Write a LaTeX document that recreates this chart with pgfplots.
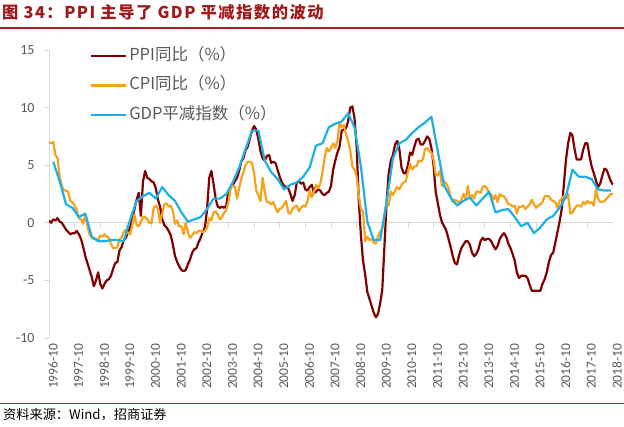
\documentclass[border=0pt]{standalone}
\usepackage{fontspec}
\usepackage{pgfplots}
\pgfplotsset{compat=1.18}
\usepackage{pgfplotstable}
\setmainfont{Carlito}
\newfontfamily\cjk{Noto Sans CJK SC}
\newfontfamily\cjktitle[LetterSpace=9]{Noto Sans CJK SC}
\definecolor{ppi}{RGB}{128,0,0}
\definecolor{cpi}{RGB}{247,162,27}
\definecolor{gdp}{RGB}{30,175,228}
\definecolor{titlered}{RGB}{160,26,26}
\definecolor{rulered}{RGB}{175,30,30}
\definecolor{axgray}{RGB}{217,217,217}
\definecolor{txtgray}{RGB}{89,89,89}

% PPI YoY, monthly from 1996-10 to 2018-10
\pgfplotstableread[row sep=\\]{v\\
0.2\\0.0\\0.3\\
0.2\\0.4\\0.1\\0.0\\-0.3\\-0.6\\-0.8\\-1.0\\-0.9\\-0.9\\-0.7\\-1.0\\
-1.4\\-2.1\\-2.9\\-3.5\\-4.1\\-4.7\\-5.5\\-5.0\\-4.3\\-5.3\\-5.7\\-5.3\\
-5.0\\-4.9\\-4.6\\-4.0\\-3.5\\-3.4\\-2.4\\-2.1\\-1.5\\-1.3\\-0.8\\-0.4\\
0.3\\1.2\\2.0\\2.6\\0.6\\3.6\\4.5\\3.9\\3.8\\3.6\\3.5\\3.0\\
2.0\\1.4\\0.3\\-0.2\\-0.4\\-0.7\\-1.1\\-1.9\\-2.9\\-3.4\\-3.8\\-4.1\\
-4.2\\-4.1\\-3.6\\-3.2\\-2.6\\-2.3\\-2.2\\-1.7\\-1.3\\-0.8\\-0.4\\1.2\\
3.9\\4.5\\3.4\\2.1\\1.4\\1.3\\1.4\\1.3\\1.5\\2.8\\3.0\\3.3\\
3.6\\3.9\\4.5\\5.3\\5.6\\6.3\\6.6\\7.3\\8.0\\8.4\\8.1\\7.3\\
6.2\\5.6\\5.4\\5.8\\5.9\\5.2\\5.3\\5.2\\4.6\\4.0\\3.5\\3.2\\
3.1\\3.0\\2.5\\1.9\\2.4\\3.5\\3.6\\3.4\\3.5\\2.9\\2.8\\3.1\\
3.3\\2.6\\2.7\\2.9\\2.8\\2.5\\2.4\\2.6\\2.7\\3.2\\4.6\\5.4\\
6.1\\6.6\\8.0\\8.1\\8.2\\8.8\\10.0\\10.1\\9.1\\6.6\\2.0\\-1.1\\
-3.3\\-4.5\\-6.0\\-6.6\\-7.2\\-7.8\\-8.2\\-7.9\\-7.0\\-5.8\\-2.1\\1.7\\
4.3\\5.4\\5.9\\6.8\\7.1\\6.4\\4.8\\4.3\\4.3\\5.0\\6.1\\5.9\\
6.6\\7.2\\7.3\\6.8\\6.8\\7.1\\7.5\\7.3\\6.5\\5.0\\2.7\\1.7\\
0.7\\0.0\\-0.3\\-0.7\\-1.4\\-2.1\\-2.9\\-3.5\\-3.6\\-2.8\\-2.2\\-1.9\\
-1.6\\-1.6\\-1.9\\-2.6\\-2.9\\-2.7\\-2.3\\-1.6\\-1.3\\-1.5\\-1.4\\-1.4\\
-1.6\\-2.0\\-2.3\\-2.0\\-1.4\\-1.1\\-0.9\\-1.2\\-1.8\\-2.2\\-2.7\\-3.3\\
-4.3\\-4.8\\-4.6\\-4.6\\-4.6\\-4.8\\-5.4\\-5.9\\-5.9\\-5.9\\-5.9\\-5.9\\
-5.3\\-4.9\\-4.3\\-3.4\\-2.8\\-2.6\\-1.7\\-0.8\\0.1\\1.2\\3.3\\5.5\\
6.9\\7.8\\7.6\\6.4\\5.5\\5.5\\5.5\\6.3\\6.9\\6.9\\5.8\\4.9\\
4.3\\3.7\\3.1\\3.4\\4.1\\4.7\\4.6\\4.1\\3.6\\3.3\\
}\ppidata

% CPI YoY, monthly from 1996-10 to 2018-10
\pgfplotstableread[row sep=\\]{v\\
7.0\\6.9\\7.0\\
5.9\\5.6\\4.0\\3.2\\2.8\\2.8\\2.7\\1.9\\1.8\\1.5\\1.1\\0.4\\
0.3\\-0.1\\0.7\\-0.3\\-1.0\\-1.3\\-1.4\\-1.4\\-1.5\\-1.1\\-1.2\\-1.0\\
-1.2\\-1.3\\-1.8\\-2.2\\-2.2\\-2.1\\-1.4\\-1.3\\-0.8\\-0.6\\-0.9\\-1.0\\
-0.2\\0.7\\-0.2\\-0.3\\0.1\\0.5\\0.5\\0.3\\0.0\\0.0\\1.3\\1.5\\
1.2\\0.0\\0.8\\1.6\\1.7\\1.4\\1.5\\1.0\\-0.1\\0.2\\-0.3\\-0.3\\
-1.0\\0.0\\-0.8\\-1.3\\-1.1\\-0.8\\-0.9\\-0.7\\-0.7\\-0.8\\-0.7\\-0.4\\
0.4\\0.2\\0.9\\1.0\\0.7\\0.3\\0.5\\0.9\\1.1\\1.8\\3.0\\3.2\\
3.2\\2.1\\3.0\\3.8\\4.4\\5.0\\5.3\\5.3\\5.2\\4.3\\2.8\\2.4\\
1.9\\3.9\\2.7\\1.8\\1.8\\1.6\\1.8\\1.3\\0.9\\1.2\\1.3\\1.6\\
1.9\\0.9\\0.8\\1.2\\1.4\\1.5\\1.0\\1.3\\1.5\\1.4\\1.9\\2.8\\
2.2\\2.7\\3.3\\3.0\\3.4\\4.4\\5.6\\6.5\\6.2\\6.5\\6.9\\6.5\\
7.1\\8.7\\8.3\\8.5\\7.7\\7.1\\6.3\\4.9\\4.6\\4.0\\2.4\\1.2\\
1.0\\-1.6\\-1.2\\-1.5\\-1.4\\-1.7\\-1.8\\-1.2\\-0.8\\-0.5\\0.6\\1.9\\
1.5\\2.7\\2.4\\2.8\\3.1\\2.9\\3.3\\3.5\\3.6\\4.4\\5.1\\4.6\\
4.9\\4.9\\5.4\\5.3\\5.5\\6.4\\6.5\\6.2\\6.1\\5.5\\4.2\\4.1\\
4.5\\3.2\\3.6\\3.4\\3.0\\2.2\\1.8\\2.0\\1.9\\1.7\\2.0\\2.5\\
2.0\\3.2\\2.1\\2.4\\2.1\\2.7\\2.7\\2.6\\3.1\\3.2\\3.0\\2.5\\
2.5\\2.0\\2.4\\1.8\\2.5\\2.3\\2.3\\2.0\\1.6\\1.6\\1.4\\1.5\\
0.8\\1.4\\1.4\\1.5\\1.2\\1.4\\1.6\\2.0\\1.6\\1.3\\1.5\\1.6\\
1.8\\2.3\\2.3\\2.3\\2.0\\1.9\\1.8\\1.3\\1.9\\2.1\\2.3\\2.1\\
2.5\\0.8\\0.9\\1.2\\1.5\\1.5\\1.4\\1.8\\1.6\\1.9\\1.7\\1.8\\
1.5\\2.9\\2.1\\1.8\\1.8\\1.9\\2.1\\2.3\\2.5\\2.5\\
}\cpidata

% GDP deflator, quarterly (x = months since 1996-10)
\pgfplotstableread[row sep=\\]{m v\\
2 5.3\\5 3.6\\8 1.6\\11 1.3\\14 0.5\\17 0.8\\20 -1.2\\23 -1.6\\26 -1.6\\29 -1.5\\32 -1.5\\35 -1.6\\
38 0.3\\41 1.9\\44 2.3\\47 2.6\\50 2.1\\53 3.1\\56 2.4\\59 1.9\\62 0.9\\65 0.1\\68 0.3\\71 0.5\\
74 1.2\\77 2.1\\80 2.1\\83 2.5\\86 3.5\\89 4.8\\92 6.4\\95 8.0\\98 8.0\\101 5.4\\104 4.4\\107 3.8\\
110 2.9\\113 3.3\\116 3.5\\119 4.0\\122 4.8\\125 6.7\\128 6.9\\131 8.3\\134 8.6\\137 8.8\\140 9.5\\143 8.3\\
146 4.9\\149 0.1\\152 -1.5\\155 -1.5\\158 1.8\\161 5.6\\164 6.9\\167 7.2\\170 7.8\\173 8.3\\176 8.7\\179 9.2\\
182 6.2\\185 3.2\\188 2.2\\191 1.5\\194 1.9\\197 2.2\\200 1.5\\203 2.1\\206 2.7\\209 0.9\\212 1.1\\215 1.2\\
218 0.5\\221 -0.3\\224 0.0\\227 -0.9\\230 -0.4\\233 0.3\\236 0.6\\239 1.3\\242 2.3\\245 4.6\\248 4.0\\251 4.0\\
254 3.8\\257 2.9\\260 2.8\\263 2.8\\
}\gdpdata

\begin{document}
\begin{tikzpicture}
\useasboundingbox (0pt,0pt) rectangle (624pt,-426pt);
\node[anchor=west, inner sep=0pt, text=titlered, font=\cjktitle\bfseries\fontsize{16.3}{18}\selectfont] at (2pt,-12pt) {图 34：PPI 主导了 GDP 平减指数的波动};
\draw[rulered, line width=1.2pt] (0pt,-28pt) -- (624pt,-28pt);
\draw[rulered, line width=1pt] (0pt,-403pt) -- (624pt,-403pt);
\node[anchor=west, inner sep=0pt, text=black, font=\cjk\fontsize{13.2}{15}\selectfont] at (3pt,-414.5pt) {资料来源：Wind，招商证券};
\begin{axis}[
  at={(49pt,-338pt)}, anchor=south west,
  width=564pt, height=288pt, scale only axis,
  xmin=0, xmax=264, ymin=-10, ymax=15,
  axis x line*=bottom, axis y line*=left,
  x axis line style={draw=none},
  y axis line style={draw=axgray, line width=0.8pt},
  xtick={0,12,...,264},
  xticklabels={1996-10,1997-10,1998-10,1999-10,2000-10,2001-10,2002-10,2003-10,2004-10,2005-10,2006-10,2007-10,2008-10,2009-10,2010-10,2011-10,2012-10,2013-10,2014-10,2015-10,2016-10,2017-10,2018-10},
  xtick style={draw=none},
  ytick={-10,-5,0,5,10,15},
  yticklabels={-10,-5,0,5,10,15},
  ytick style={draw=axgray, line width=0.8pt},
  tick align=outside, major tick length=5pt,
  xticklabel style={rotate=90, anchor=east, font=\fontsize{13.5}{15}\selectfont, text=txtgray, inner sep=0pt, yshift=-4pt, xshift=-0.5pt},
  yticklabel style={font=\fontsize{14}{15}\selectfont, text=txtgray, xshift=-6pt},
  legend style={at={(rel axis cs:0.0725,1.013)}, anchor=north west, draw=none, fill=none,
    font=\cjk\fontsize{16.5}{18}\selectfont, text=txtgray, inner sep=0pt, row sep=10.5pt,
    nodes={inner sep=2pt, text height=12pt, text depth=3pt}},
  legend cell align=left,
  legend image code/.code={\draw[#1] (0pt,0pt) -- (35pt,0pt);},
]
\draw[axgray, line width=0.8pt] (axis cs:0,0) -- (axis cs:264,0);
\pgfplotsinvokeforeach{0,12,...,264}{\draw[axgray, line width=0.8pt] (axis cs:#1,0) -- ++(0pt,-5pt);}
\addplot[ppi, line width=2.2pt, line join=round] table[x expr=\coordindex, y=v] {\ppidata};
\addlegendentry{PPI同比（\%）}
\addplot[cpi, line width=2.2pt, line join=round] table[x expr=\coordindex, y=v] {\cpidata};
\addlegendentry{CPI同比（\%）}
\addplot[gdp, line width=2.2pt, line join=round] table[x=m, y=v] {\gdpdata};
\addlegendentry{GDP平减指数（\%）}
\end{axis}
\end{tikzpicture}
\end{document}
